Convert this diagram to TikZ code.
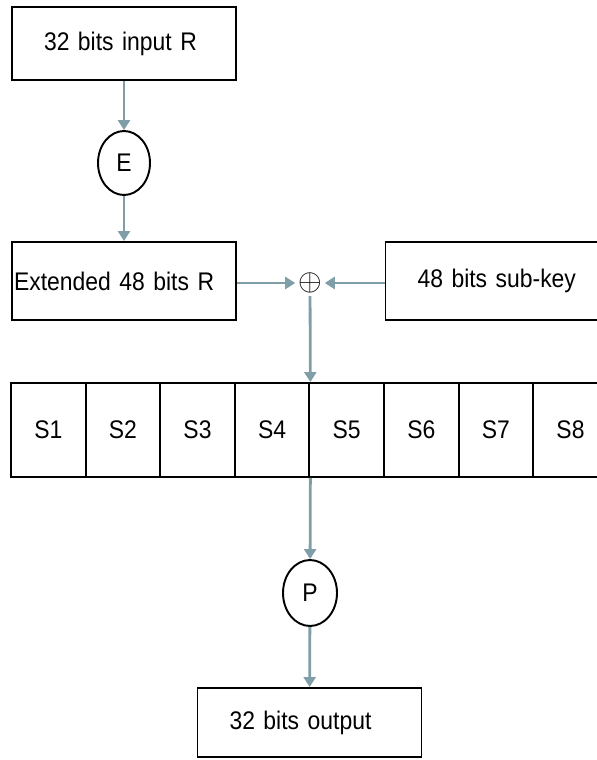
\documentclass[tikz,border=0pt]{standalone}
\usepackage{fontspec}
\setmainfont[FakeStretch=0.9, WordSpace=0.85]{Liberation Sans}
\usetikzlibrary{positioning,shapes.geometric,arrows.meta}
\definecolor{flowgray}{HTML}{7F9EA8}
\tikzstyle{block} = [draw, line width=1.1pt, minimum height=1.46cm, text width=3.2cm, inner xsep=0.64cm, align=left]
\tikzstyle{sbox} = [draw, line width=1.1pt, minimum width=1.492cm, minimum height=1.88cm]
\tikzstyle{perm} = [draw, ellipse, line width=1.1pt, minimum width=1.04cm, minimum height=1.28cm, inner sep=0pt]
\tikzstyle{flow} = [draw=flowgray, line width=1.6pt, -{Triangle[length=0.2cm,width=0.24cm]}]

\begin{document}
\begin{tikzpicture}[x=0.02cm, y=-0.02cm, every node/.style={font=\fontsize{14.5}{16}\selectfont}]
    \useasboundingbox (0,0) rectangle (597,760);
    \node[block] (inR) at (124,43.5) {32 bits input R};
    \node[perm] (E) at (124,163) {E};
    \node[block, minimum height=1.56cm, inner xsep=0.04cm, text width=4.4cm] (extR) at (124,281) {Extended 48 bits R};
    \node[block, minimum height=1.56cm] (subkey) at (497.5,281) {48 bits sub-key};
    \node[inner sep=1.5pt, font=\fontsize{18}{18}\selectfont] (xor) at (310,283) {$\oplus$};
    \foreach \i in {1,...,8}
        \node[sbox] (s\i) at ({11+74.6*(\i-0.5)},430) {S\i};
    \node[perm, minimum width=1.08cm, minimum height=1.32cm] (P) at (310,593) {P};
    \node[block, minimum height=1.38cm] (out) at (309.5,722.5) {32 bits output};
    \draw[flow] (inR) -- (E);
    \draw[flow] (E) -- (extR);
    \draw[flow] (extR.east |- xor) -- (xor);
    \draw[flow] (subkey.west |- xor) -- (xor);
    \draw[flow] (xor) -- (s4.north east);
    \draw[flow] (s4.south east) -- (P);
    \draw[flow] (P) -- (out);
\end{tikzpicture}
\end{document}
